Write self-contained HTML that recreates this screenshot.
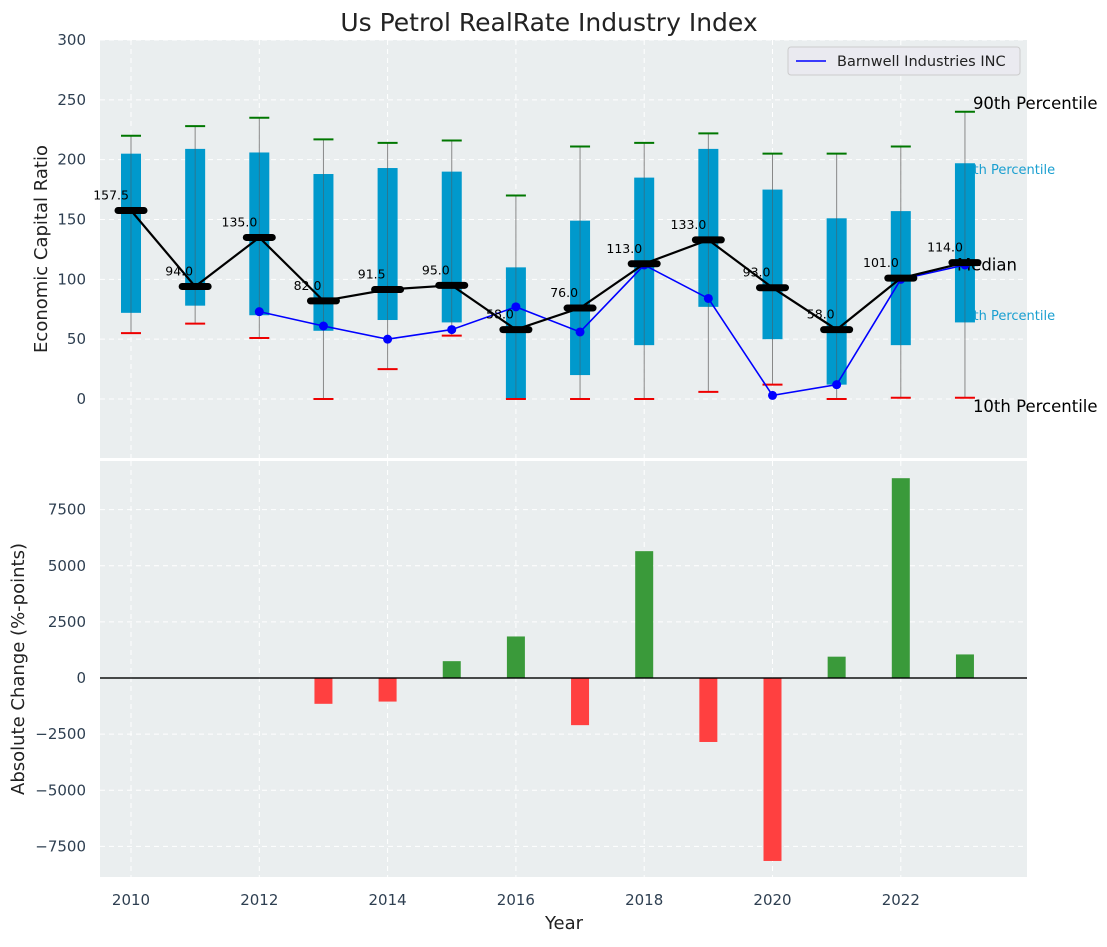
<!DOCTYPE html>
<html><head><meta charset="utf-8"><style>
body{margin:0;background:#fff;font-family:"Liberation Sans","DejaVu Sans",sans-serif}
svg text{font-family:"DejaVu Sans","Liberation Sans",sans-serif}
</style></head><body>
<svg id="c" width="1107" height="942" xmlns="http://www.w3.org/2000/svg"></svg>
<script>
const years=[2010,2011,2012,2013,2014,2015,2016,2017,2018,2019,2020,2021,2022,2023];
const lowV=[55,63,51,0,25,53,0,0,0,6,12,0,1,1];
const q1V=[72,78,70,57,66,64,0,20,45,77,50,12,45,64];
const q3V=[205,209,206,188,193,190,110,149,185,209,175,151,157,197];
const highV=[220,228,235,217,214,216,170,211,214,222,205,205,211,240];
const medV=[157.5,94,135,82,91.5,95,58,76,113,133,93,58,101,114];
const compYears=[2012,2013,2014,2015,2016,2017,2018,2019,2020,2021,2022,2023];
const compV=[73,61,50,58,77,56,112,84,3,12,100,112];
const chgYears=[2013,2014,2015,2016,2017,2018,2019,2020,2021,2022,2023];
const chgV=[-1150,-1050,750,1850,-2100,5650,-2850,-8150,950,8900,1050];
const topTicks=[0,50,100,150,200,250,300];
const botTicks=[-7500,-5000,-2500,0,2500,5000,7500];
const xTicks=[2010,2012,2014,2016,2018,2020,2022];

const NS="http://www.w3.org/2000/svg",svg=document.getElementById('c');
function el(t,a,p){const e=document.createElementNS(NS,t);for(const k in a)e.setAttribute(k,a[k]);(p||svg).appendChild(e);return e;}
const L=100,R=1027;
const X=y=>131+(y-2010)*64.15;
const Y1=v=>399-v*1.1967;
const Y2=v=>678-v*0.02245;
let bg1=el('rect',{x:L,y:40,width:R-L,height:418,fill:'#eaeeef'});

let bg2=el('rect',{x:L,y:461,width:R-L,height:416,fill:'#eaeeef'});

for(const t of topTicks){el('line',{x1:L,x2:R,y1:Y1(t),y2:Y1(t),stroke:'#fff','stroke-dasharray':'5,4','stroke-width':1});
 let tx=el('text',{x:L-14,y:Y1(t)+5,'text-anchor':'end','font-size':15,fill:'#2e3f51'});tx.textContent=t;
 }
for(const t of botTicks){el('line',{x1:L,x2:R,y1:Y2(t),y2:Y2(t),stroke:'#fff','stroke-dasharray':'5,4','stroke-width':1});
 let tx=el('text',{x:L-14,y:Y2(t)+5,'text-anchor':'end','font-size':15,fill:'#2e3f51'});tx.textContent=t.toString().replace('-','\u2212');
 }
for(const t of xTicks){el('line',{x1:X(t),x2:X(t),y1:40,y2:458,stroke:'#fff','stroke-dasharray':'5,4'});
 el('line',{x1:X(t),x2:X(t),y1:461,y2:877,stroke:'#fff','stroke-dasharray':'5,4'});
 let tx=el('text',{x:X(t),y:905,'text-anchor':'middle','font-size':15,fill:'#2e3f51'});tx.textContent=t;
 }
const lx=X(2023);
[['90th Percentile',Y1(highV[13])-3,16.5,'#000',lx+8],['75th Percentile',174,13,'#1a9fd0',lx-8],['25th Percentile',320,13,'#1a9fd0',lx-8],['10th Percentile',Y1(lowV[13])+14,16.5,'#000',lx+8]].forEach(a=>{
 let t=el('text',{x:a[4],y:a[1],'font-size':a[2],fill:a[3]});t.textContent=a[0];
 });
years.forEach((y,i)=>{const x=X(y);
 let w=el('line',{x1:x,x2:x,y1:Y1(lowV[i]),y2:Y1(highV[i]),stroke:'#888','stroke-width':1});
 
 let b=el('rect',{x:x-10,y:Y1(q3V[i]),width:20,height:Y1(q1V[i])-Y1(q3V[i]),fill:'#0099cc'});
 
 el('line',{x1:x,x2:x,y1:Y1(q1V[i]),y2:Y1(q3V[i]),stroke:'#555','stroke-width':0.8,opacity:0.6});
 let lo=el('line',{x1:x-10,x2:x+10,y1:Y1(lowV[i]),y2:Y1(lowV[i]),stroke:'#e00','stroke-width':2});
 
 let hi=el('line',{x1:x-10,x2:x+10,y1:Y1(highV[i]),y2:Y1(highV[i]),stroke:'#070','stroke-width':2});
 
});
let t=el('text',{x:lx-8,y:Y1(medV[13])+8,'font-size':16.5,fill:'#000'});t.textContent='Median';

let cp=el('polyline',{points:compYears.map((y,i)=>X(y)+','+Y1(compV[i])).join(' '),fill:'none',stroke:'#0000ff','stroke-width':1.6});

compYears.forEach((y,i)=>{let c=el('circle',{cx:X(y),cy:Y1(compV[i]),r:4.5,fill:'#0000ff'});
 });
let ml=el('polyline',{points:years.map((y,i)=>X(y)+','+Y1(medV[i])).join(' '),fill:'none',stroke:'#000','stroke-width':2.2});

years.forEach((y,i)=>{const x=X(y),v=Y1(medV[i]);
 let m=el('line',{x1:x-13,x2:x+13,y1:v,y2:v,stroke:'#000','stroke-width':7,'stroke-linecap':'round'});
 
 let tx=el('text',{x:x-2,y:v-11,'text-anchor':'end','font-size':12.5,fill:'#000'});tx.textContent=medV[i].toFixed(1);
 });
chgYears.forEach((y,i)=>{const v=chgV[i],y0=Y2(0),y1=Y2(v);
 let b=el('rect',{x:X(y)-9,y:Math.min(y0,y1),width:18,height:Math.abs(y1-y0),fill:v>=0?'#3a9a3a':'#ff4040'});
 });
el('rect',{x:L,y:Y2(0)-0.7,width:R-L,height:1.4,fill:'#000'});
let lg=el('rect',{x:788,y:47,width:232,height:28,rx:3,fill:'#eaeaf0',stroke:'#ccc'});

el('line',{x1:796,x2:826,y1:61,y2:61,stroke:'#0000ff','stroke-width':1.6});
t=el('text',{x:837,y:66,'font-size':14.5,fill:'#222'});t.textContent='Barnwell Industries INC';

t=el('text',{x:549,y:31,'text-anchor':'middle','font-size':25,fill:'#222'});t.textContent='Us Petrol RealRate Industry Index';

t=el('text',{x:0,y:0,'text-anchor':'middle','font-size':18,fill:'#222',transform:'translate(47,249) rotate(-90)'});t.textContent='Economic Capital Ratio';

t=el('text',{x:0,y:0,'text-anchor':'middle','font-size':18,fill:'#222',transform:'translate(24,669) rotate(-90)'});t.textContent='Absolute Change (%-points)';

t=el('text',{x:564,y:929,'text-anchor':'middle','font-size':18,fill:'#222'});t.textContent='Year';

</script>
</body></html>
